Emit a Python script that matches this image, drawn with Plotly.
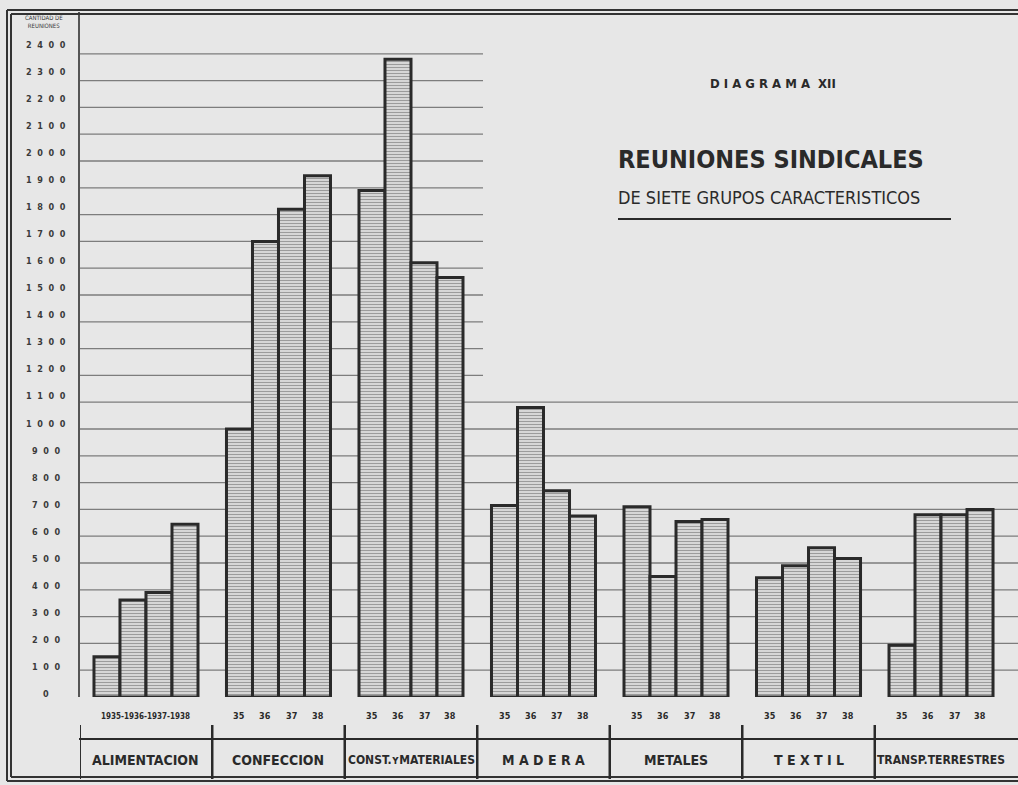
import plotly.graph_objects as go

# ---- data ----
groups = ["ALIMENTACION", "CONFECCION", "CONST.y MATERIALES", "MADERA",
          "METALES", "TEXTIL", "TRANSP.TERRESTRES"]
years = ["1935", "1936", "1937", "1938"]
v1935 = [150, 1000, 1890, 715, 710, 445, 193]
v1936 = [362, 1700, 2380, 1080, 450, 490, 680]
v1937 = [390, 1820, 1620, 770, 655, 557, 680]
v1938 = [645, 1945, 1565, 675, 662, 517, 700]
series = [v1935, v1936, v1937, v1938]
year_short = ["35", "36", "37", "38"]
first_group_years = "1935-1936-1937-1938"
y_ticks = list(range(0, 2500, 100))

W, H = 1018, 785
L, R, T, B = 80, 1018, 12, 697   # plot area pixels
PW, PH = R - L, B - T
YMAX = 2556
BARGAP = 0.215
XR = [-0.498, 6.581]

def px(p):
    return (p - L) / PW

def py(p):
    return (B - p) / PH

BG = "#e7e7e7"
INK = "#2a2a2a"
GRID = "#7d7d7d"
FONT = "DejaVu Sans Condensed, Liberation Sans Narrow, DejaVu Sans"

fig = go.Figure()
xs = list(range(len(groups)))
for yr, vals in zip(years, series):
    fig.add_trace(go.Bar(
        x=xs, y=vals, name=yr,
        marker=dict(color="#dadada",
                    line=dict(color=INK, width=3),
                    pattern=dict(shape="-", fgcolor="#5a5a5a", bgcolor="#dcdcdc",
                                 size=3, solidity=0.4)),
        showlegend=False, hoverinfo="x+y",
    ))

shapes = []
# horizontal rules
for v in y_ticks[1:]:
    x1 = 1.0 if v <= 1100 else px(483)
    shapes.append(dict(type="line", xref="paper", yref="y", x0=0, x1=x1, y0=v, y1=v,
                       line=dict(color=GRID, width=1.3), layer="below"))
# y axis line
shapes.append(dict(type="line", xref="paper", yref="paper", x0=px(79), x1=px(79),
                   y0=py(697), y1=py(12), line=dict(color="#555", width=2)))
# outer double frame
for off in (0, 4):
    shapes.append(dict(type="line", xref="paper", yref="paper",
                       x0=px(7 + off), x1=px(7 + off), y0=py(10 + off), y1=py(781 - off),
                       line=dict(color="#333", width=2)))
    shapes.append(dict(type="line", xref="paper", yref="paper",
                       x0=px(7 + off), x1=1.0, y0=py(10 + off), y1=py(10 + off),
                       line=dict(color="#333", width=2)))
    shapes.append(dict(type="line", xref="paper", yref="paper",
                       x0=px(7 + off), x1=1.0, y0=py(781 - off), y1=py(781 - off),
                       line=dict(color="#333", width=2)))
# category box rules
shapes.append(dict(type="line", xref="paper", yref="paper", x0=px(79), x1=1.0,
                   y0=py(739), y1=py(739), line=dict(color=INK, width=2)))
for i in range(len(groups)):
    xsep = i - 0.5
    shapes.append(dict(type="line", xref="x", yref="paper", x0=xsep, x1=xsep,
                       y0=py(725), y1=py(779), line=dict(color=INK, width=2.5)))
# title underline
shapes.append(dict(type="line", xref="paper", yref="paper", x0=px(618), x1=px(951),
                   y0=py(219), y1=py(219), line=dict(color=INK, width=2)))

ann = []
# y tick labels
for v in y_ticks:
    s = "&nbsp;&nbsp;".join(str(v))
    ann.append(dict(xref="paper", yref="y", x=px(46), y=v, text="<b>" + s + "</b>",
                    showarrow=False, xanchor="center",
                    yanchor="middle", yshift=3 + v / 400,
                    font=dict(family=FONT, size=9, color="#3a3a3a")))
ann.append(dict(xref="paper", yref="paper", x=px(44), y=py(22),
                text="CANTIDAD DE<br>REUNIONES", showarrow=False,
                xanchor="center", yanchor="middle",
                font=dict(family=FONT, size=6, color="#3a3a3a")))
# year labels
bw = (1 - BARGAP) / 4
for i in range(len(groups)):
    if i == 0:
        ann.append(dict(xref="x", yref="paper", x=i, y=py(716),
                        text="<b>" + first_group_years + "</b>",
                        showarrow=False, xanchor="center", yanchor="middle",
                        font=dict(family=FONT, size=8, color=INK)))
    else:
        for j, t in enumerate(year_short):
            ann.append(dict(xref="x", yref="paper", x=i + (j - 1.5) * bw, y=py(716),
                            text="<b>" + t + "</b>", showarrow=False,
                            xanchor="center", yanchor="middle",
                            font=dict(family=FONT, size=9, color=INK)))
# category labels
cat_sizes = [14, 14, 12, 14, 14, 14, 12]
cat_text = ["ALIMENTACION", "CONFECCION", "CONST.ʏMATERIALES", "M A D E R A",
            "METALES", "T E X T I L", "TRANSP.TERRESTRES"]
for i, (g, s) in enumerate(zip(cat_text, cat_sizes)):
    ann.append(dict(xref="x", yref="paper", x=i, y=py(760), text="<b>" + g + "</b>",
                    showarrow=False, xanchor="center", yanchor="middle",
                    font=dict(family=FONT, size=s, color=INK)))
# titles
ann.append(dict(xref="paper", yref="paper", x=px(773), y=py(84),
                text="<b>D I A G R A M A&nbsp;&nbsp;XII</b>", showarrow=False,
                xanchor="center", yanchor="middle",
                font=dict(family=FONT, size=13, color=INK)))
ann.append(dict(xref="paper", yref="paper", x=px(616), y=py(159),
                text="<b>REUNIONES SINDICALES</b>", showarrow=False, xanchor="left",
                yanchor="middle", font=dict(family=FONT, size=25, color=INK)))
ann.append(dict(xref="paper", yref="paper", x=px(616), y=py(197),
                text="DE SIETE GRUPOS CARACTERISTICOS", showarrow=False, xanchor="left",
                yanchor="middle", font=dict(family=FONT, size=18, color=INK)))

fig.update_layout(
    width=W, height=H,
    margin=dict(l=L, r=W - R, t=T, b=H - B),
    paper_bgcolor=BG, plot_bgcolor=BG,
    barmode="group", bargap=BARGAP, bargroupgap=0,
    xaxis=dict(range=XR, showticklabels=False, showgrid=False, zeroline=False,
               ticks="", showline=False),
    yaxis=dict(range=[0, YMAX], showticklabels=False, showgrid=False, zeroline=False,
               ticks="", showline=False),
    shapes=shapes, annotations=ann,
)
fig.write_html("out.html",
               config={"displayModeBar": False},
               post_script="document.body.style.margin='0';"
                           "document.body.style.background='#e7e7e7';")
